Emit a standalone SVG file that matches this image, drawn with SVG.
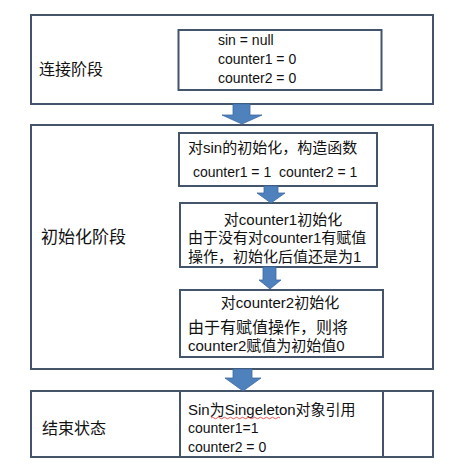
<svg xmlns="http://www.w3.org/2000/svg" width="459" height="469" viewBox="0 0 459 469">
<style>
.box{fill:#fff;stroke:#44546a;stroke-width:2}
.arrow{fill:#4f81bd;stroke:#3d6aa3;stroke-width:0.8}
text{font-family:"Liberation Sans","Noto Sans CJK SC",sans-serif;fill:#111}
.lbl{font-size:16px}
.t15{font-size:15px}
.t14{font-size:14px}
</style>
<rect width="459" height="469" fill="#fff"/>
<g id="stage-connect">
<rect class="box" x="31" y="15" width="402" height="89"/>
<text class="lbl" x="39" y="75">连接阶段</text>
</g>
<g id="connect-values">
<rect class="box" x="178.5" y="30" width="203" height="60"/>
<text class="t14" x="218" y="45">sin = null</text>
<text class="t14" x="218" y="64">counter1 = 0</text>
<text class="t14" x="218" y="83">counter2 = 0</text>
</g>
<g id="stage-init">
<rect class="box" x="31" y="125" width="402" height="244"/>
<text class="lbl" x="41" y="243" style="font-size:17px">初始化阶段</text>
</g>
<g id="init-sin">
<rect class="box" x="179" y="133" width="198" height="53"/>
<text class="t15" x="188" y="153">对sin的初始化，构造函数</text>
<text class="t14" x="193" y="177" xml:space="preserve">counter1 = 1  counter2 = 1</text>
</g>
<g id="init-counter1">
<rect class="box" x="180" y="203" width="197" height="64"/>
<text class="t15" x="283" y="225" text-anchor="middle">对counter1初始化</text>
<text class="t15" x="188" y="243">由于没有对counter1有赋值</text>
<text class="t15" x="188" y="262">操作，初始化后值还是为1</text>
</g>
<g id="init-counter2">
<rect class="box" x="180" y="290" width="203" height="67"/>
<text class="t15" x="280" y="308" text-anchor="middle">对counter2初始化</text>
<text class="t15" x="188" y="333" style="font-size:16px">由于有赋值操作，则将</text>
<text class="t15" x="188" y="351">counter2赋值为初始值0</text>
</g>
<g id="stage-end">
<rect class="box" x="31" y="391" width="402" height="66"/>
<line x1="180" y1="391" x2="180" y2="457" stroke="#44546a" stroke-width="2"/>
<line x1="383" y1="391" x2="383" y2="457" stroke="#44546a" stroke-width="2"/>
<text class="lbl" x="42" y="434">结束状态</text>
<text class="t15" x="188" y="415">Sin为Singeleton对象引用</text>
<path d="M211 418 q1.5 -1.5 3 0 t3 0 t3 0 t3 0 t3 0 t3 0 t3 0 t3 0 t3 0 t3 0 t3 0 t3 0 t3 0 t3 0 t3 0 t3 0 t3 0 t3 0 t3 0 t3 0 t3 0 t3 0 t3 0" fill="none" stroke="#e03030" stroke-width="0.8"/>
<text class="t14" x="188" y="433">counter1=1</text>
<text class="t14" x="188" y="452">counter2 = 0</text>
</g>
<g id="connectors">
<path class="arrow" d="M233 104 H250 V115 H262 L242 124 L222 115 H233 Z"/>
<path class="arrow" d="M264 186 H278 V193 H285 L271 203 L257 193 H264 Z"/>
<path class="arrow" d="M263 267 H276 V280 H281 L270 289 L259 280 H263 Z"/>
<path class="arrow" d="M233 369 H252 V378 H261 L243 391 L225 378 H233 Z"/>
</g>
</svg>
